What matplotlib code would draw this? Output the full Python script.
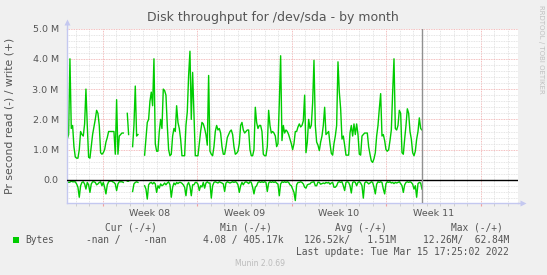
import numpy as np
import matplotlib
matplotlib.use("Agg")
import matplotlib.pyplot as plt
from matplotlib.patches import Rectangle

nan = np.nan

# time in days, counted from Monday 2022-02-21 00:00 (start of week 08)
view_start = -2.64
view_end = 30.76
data_start = -2.62
data_end = 23.65
week_starts = [0, 7, 14, 21, 28]
week_labels = ["Week 08", "Week 09", "Week 10", "Week 11"]

# bytes per second, in millions, sampled evenly between data_start and data_end
write_mb = [
    1.35, 1.5, 4.0, 1.7, 1.8, 1.1, 0.76, 0.72, 0.72, 1.0,
    1.6, 1.5, 1.45, 1.85, 3.0, 1.8, 0.75, 0.72, 1.1, 1.5,
    1.75, 2.0, 2.3, 2.2, 1.8, 0.9, 0.85, 0.9, 1.0, 1.25,
    1.4, 1.6, 1.6, 1.6, 1.6, 1.6, 0.85, 2.65, 0.85, 1.45,
    1.5, 1.55, 1.55, nan, nan, 2.2, 1.5, nan, nan, 1.1,
    1.8, 3.1, 1.45, 1.5, nan, nan, nan, nan, 0.82, 1.35,
    1.9, 2.0, 2.6, 2.9, 2.45, 4.0,
    1.2, 0.95, 0.95, 1.6, 2.0, 1.7, 3.0, 2.95, 2.8, 1.8,
    1.0, 0.8, 0.85, 1.45, 1.7, 1.6, 2.45, 1.9, 1.7, 1.35,
    0.8, 0.8, 0.8, 1.8, 2.25, 3.45, 4.25, 2.0, 3.55, 2.2,
    0.8, 0.8, 0.8, 1.2, 1.6, 1.9, 1.85, 1.7, 1.5, 1.15,
    3.45, 0.95, 0.85, 0.8, 1.1, 1.6, 1.8, 1.65, 1.7, 1.55,
    1.1, 0.85, 0.85, 1.1, 1.4, 1.5, 1.6, 1.65, 1.5, 1.1,
    0.85, 0.88, 0.95, 1.2, 1.8, 1.9, 1.65,
    1.55, 1.6, 1.65, 1.65, 1.0, 0.8, 0.8, 1.0, 2.4, 1.9,
    1.7, 1.8, 1.8, 1.6, 0.85, 0.8, 0.8, 1.1, 2.3, 1.8,
    1.55, 1.6, 1.55, 1.45, 1.1, 1.2, 2.55, 4.1, 1.3, 1.8,
    1.55, 1.65, 1.6, 1.5, 1.35, 1.2, 1.0, 1.2, 1.6, 1.6,
    1.75, 1.85, 1.75, 1.8, 1.95, 2.8, 0.9, 1.25, 2.0, 1.7,
    1.8, 2.55, 3.95, 1.8, 1.25, 1.15, 0.97, 1.25, 1.45, 1.8,
    2.4, 1.5, 1.55, 1.6, 1.2, 0.88, 0.82, 1.2,
    1.45, 1.8, 3.9, 2.9, 2.35, 1.35, 1.45, 1.15, 0.82, 0.82,
    0.82, 1.55, 1.8, 1.45, 1.85, 1.5, 1.85, 1.5, 0.85, 0.82,
    1.45, 1.5, 1.55, 1.55, 1.55, 1.1, 0.85, 0.63, 0.58, 0.7,
    0.9, 1.45, 1.8, 2.35, 2.85, 1.45, 1.5, 1.3, 1.0, 0.95,
    1.0, 1.3, 1.65, 2.9, 4.0, 1.7, 1.65, 1.8, 2.3, 2.2,
    0.9, 0.85, 1.35, 1.8, 2.35, 2.2, 1.6, 1.35, 0.9, 0.8,
    0.95, 1.35, 1.6, 2.05, 1.7, 1.65,
]

read_mb = [
    -0.06, -0.08, -0.07, -0.04, -0.06, -0.06, -0.06, -0.13, -0.24, -0.57,
    -0.19, -0.08, -0.06, -0.13, -0.30, -0.08, -0.16, -0.41, -0.13, -0.06,
    -0.06, -0.08, -0.16, -0.13, -0.08, -0.06, -0.19, -0.08, -0.24, -0.46,
    -0.16, -0.06, -0.04, -0.03, -0.06, -0.08, -0.13, -0.35, -0.13, -0.06,
    -0.06, -0.06, -0.08, nan, nan, -0.04, -0.04, nan, nan, -0.38,
    -0.13, -0.08, -0.06, -0.08, nan, nan, nan, nan, -0.19, -0.30,
    -0.63, -0.16, -0.10, -0.08, -0.13, -0.08,
    -0.13, -0.41, -0.19, -0.27, -0.13, -0.19, -0.16, -0.10, -0.16, -0.10,
    -0.06, -0.16, -0.57, -0.24, -0.10, -0.16, -0.08, -0.12, -0.08, -0.08,
    -0.11, -0.16, -0.24, -0.52, -0.16, -0.08, -0.21, -0.52, -0.16, -0.16,
    -0.08, -0.08, -0.14, -0.35, -0.19, -0.23, -0.08, -0.27, -0.10, -0.06,
    -0.10, -0.10, -0.60, -0.19, -0.08, -0.06, -0.08, -0.10, -0.06, -0.08,
    -0.10, -0.13, -0.38, -0.10, -0.06, -0.08, -0.10, -0.08, -0.06, -0.08,
    -0.06, -0.08, -0.16, -0.41, -0.19, -0.08, -0.16,
    -0.08, -0.06, -0.08, -0.12, -0.06, -0.08, -0.24, -0.46, -0.24, -0.19,
    -0.08, -0.06, -0.08, -0.06, -0.08, -0.06, -0.08, -0.38, -0.10, -0.06,
    -0.08, -0.06, -0.08, -0.06, -0.10, -0.14, -0.52, -0.13, -0.06, -0.08,
    -0.06, -0.08, -0.06, -0.08, -0.16, -0.19, -0.30, -0.41, -0.68, -0.16,
    -0.08, -0.08, -0.06, -0.08, -0.13, -0.24, -0.27, -0.16, -0.14, -0.13,
    -0.08, -0.07, -0.06, -0.19, -0.19, -0.07, -0.08, -0.14, -0.12, -0.10,
    -0.12, -0.08, -0.10, -0.08, -0.14, -0.10, -0.08, -0.24,
    -0.24, -0.19, -0.08, -0.06, -0.08, -0.06, -0.19, -0.35, -0.08, -0.06,
    -0.08, -0.19, -0.43, -0.08, -0.06, -0.08, -0.19, -0.08, -0.06, -0.10,
    -0.19, -0.60, -0.10, -0.06, -0.08, -0.13, -0.10, -0.06, -0.08, -0.24,
    -0.46, -0.14, -0.06, -0.08, -0.06, -0.08, -0.30, -0.46, -0.12, -0.06,
    -0.08, -0.06, -0.10, -0.08, -0.12, -0.08, -0.10, -0.08, -0.06, -0.12,
    -0.19, -0.41, -0.16, -0.08, -0.06, -0.08, -0.06, -0.08, -0.14, -0.30,
    -0.19, -0.57, -0.12, -0.08, -0.10, -0.30,
]

legend_heads = ["Cur (-/+)", "Min (-/+)", "Avg (-/+)", "Max (-/+)"]
legend_vals = ["-nan /    -nan", "4.08 / 405.17k", "126.52k/   1.51M", "12.26M/  62.84M"]
last_update = "Last update: Tue Mar 15 17:25:02 2022"

green = "#00CC00"
textc = "#555555"
axisc = "#C4C8F0"

W, H = 547, 275
fig = plt.figure(figsize=(W / 100, H / 100), dpi=100, facecolor="#F0F0F0")
ax = fig.add_axes([67 / W, 1 - 203 / H, (518 - 67) / W, (203 - 28.5) / H])
ax.set_facecolor("white")
ax.set_xlim(view_start, view_end)
ax.set_ylim(-0.76, 5.0)

# grid, munin style dotted
dots = (0, (1, 1))
for d in range(int(np.ceil(view_start)), int(view_end) + 1):
    if d not in week_starts:
        ax.axvline(d, color="#DCDCDC", lw=0.6, ls=dots, zorder=0)
for d in week_starts:
    ax.axvline(d, color="#F0A8A8", lw=0.6, ls=dots, zorder=0)
for v in np.arange(-0.6, 5.0, 0.2):
    if abs(v - round(v)) > 0.01:
        ax.axhline(v, color="#DCDCDC", lw=0.6, ls=dots, zorder=0)
for v in range(1, 6):
    ax.axhline(v, color="#F0A8A8", lw=0.6, ls=dots, zorder=0)

t = np.linspace(data_start, data_end, len(write_mb))
ax.plot(t, write_mb, color=green, lw=1.0, zorder=2)
ax.plot(t, read_mb, color=green, lw=1.0, zorder=2)
ax.axhline(0, color="black", lw=1.0, zorder=3)
ax.axvline(data_end, color="#909090", lw=1.0, zorder=3)

for s in ["top", "right"]:
    ax.spines[s].set_visible(False)
for s in ["left", "bottom"]:
    ax.spines[s].set_color(axisc)
    ax.spines[s].set_linewidth(1.0)
ax.plot([0, 0], [1.0, 1.03], color=axisc, lw=1.0, transform=ax.transAxes, clip_on=False)
ax.plot(0, 1.035, marker="^", ms=4, color=axisc, mec="none", transform=ax.transAxes, clip_on=False)
ax.plot([1.0, 1.006], [0, 0], color=axisc, lw=1.0, transform=ax.transAxes, clip_on=False)
ax.plot(1.01, 0, marker=">", ms=4, color=axisc, mec="none", transform=ax.transAxes, clip_on=False)

ax.set_xticks(week_starts)
ax.set_xticklabels([])
ax.set_xticks(np.arange(np.ceil(view_start), view_end), minor=True)
ax.tick_params(axis="x", which="major", length=2, color="#F0A0A0", direction="out")
ax.tick_params(axis="x", which="minor", length=2, color="#C8C8C8", direction="out")
for i, lab in enumerate(week_labels):
    ax.text(week_starts[i] + 3.5, -0.06, lab, transform=ax.get_xaxis_transform(),
            ha="center", va="center", fontsize=6.8, color=textc)

yt = [0, 1, 2, 3, 4, 5]
ax.set_yticks(yt)
ax.set_yticklabels(["0.0"] + ["%.1f M" % v for v in yt[1:]], fontsize=6.8, color=textc)
ax.tick_params(axis="y", length=0, pad=6)

fig.text(273 / W, 1 - 18 / H, "Disk throughput for /dev/sda - by month",
         ha="center", va="center", fontsize=9.0, color=textc)
fig.text(10 / W, 1 - 116 / H, "Pr second read (-) / write (+)", rotation=90,
         ha="center", va="center", fontsize=7.8, color=textc)
fig.text(541 / W, 1 - 5 / H, "RRDTOOL / TOBI OETIKER", rotation=270,
         ha="center", va="top", fontsize=5, color="#C0C0C0")

mono = dict(family="DejaVu Sans Mono", fontsize=6.9, color=textc, va="center")
head_right = [157, 272, 387, 503]
val_right = [166, 284, 396, 509]
for x, s in zip(head_right, legend_heads):
    fig.text(x / W, 1 - 228 / H, s, ha="right", **mono)
for x, s in zip(val_right, legend_vals):
    fig.text(x / W, 1 - 240 / H, s, ha="right", **mono)
fig.text(25 / W, 1 - 240 / H, "Bytes", ha="left", **mono)
fig.patches.append(Rectangle((13 / W, 1 - 243 / H), 6 / W, 6 / H, transform=fig.transFigure,
                             facecolor=green, edgecolor="none"))
fig.text(509 / W, 1 - 252 / H, last_update, ha="right", **mono)
fig.text(260 / W, 1 - 264 / H, "Munin 2.0.69", ha="center", va="center",
         fontsize=5.5, color="#BBBBBB")

fig.savefig("out.png", dpi=100, facecolor=fig.get_facecolor())
